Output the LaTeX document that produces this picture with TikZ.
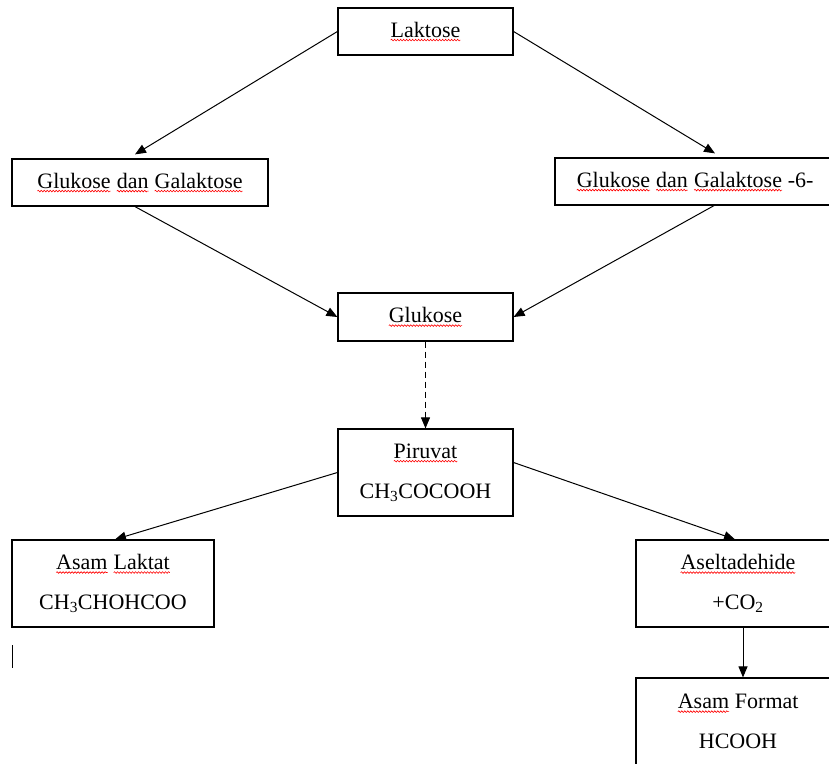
\documentclass[tikz,border=0pt]{standalone}
\usepackage{fontspec}
\setmainfont{Liberation Serif}
\usetikzlibrary{arrows.meta,decorations.pathmorphing}
\newcommand\sq[1]{\tikz[baseline=(w.base)]{\node[inner sep=0pt,outer sep=0pt,minimum width=0pt,minimum height=0pt,draw=none](w){#1};\draw[red,line width=0.6pt,decorate,decoration={snake,amplitude=0.8pt,segment length=3pt}]([yshift=-3pt]w.base west)--([yshift=-3pt]w.base east);}}
\begin{document}
\begin{tikzpicture}[x=1pt,y=-1pt,
  box/.style={draw,line width=1.2pt,inner sep=0pt,align=center,font=\fontsize{22}{40}\selectfont},
  arr/.style={line width=1pt,-{Triangle[length=11pt,width=9pt]}}]
\useasboundingbox (0,0) rectangle (829,763);
\clip (0,0) rectangle (829,763);
\fill[white] (0,0) rectangle (829,763);
\node[box,minimum width=175pt,minimum height=47pt] (lak) at (425.5,31.5) {\sq{Laktose}};
\node[box,minimum width=256pt,minimum height=47pt] (gg) at (140,182.5) {\sq{Glukose} \sq{dan} \sq{Galaktose}};
\node[box,minimum width=280pt,minimum height=47pt] (gg6) at (695,181.5) {\sq{Glukose} \sq{dan} \sq{Galaktose} -6-};
\node[box,minimum width=175pt,minimum height=48pt] (glu) at (425.5,317) {\sq{Glukose}};
\node[box,minimum width=175pt,minimum height=87pt] (pir) at (425.5,472.5) {\sq{Piruvat}\\CH\textsubscript{3}COCOOH};
\node[box,minimum width=202pt,minimum height=87pt] (lakt) at (113,583.5) {\sq{Asam} \sq{Laktat}\\CH\textsubscript{3}CHOHCOO};
\node[box,minimum width=204pt,minimum height=87pt] (ase) at (738,583.5) {\sq{Aseltadehide}\\+CO\textsubscript{2}};
\node[box,minimum width=204pt,minimum height=87pt] (fmt) at (738,721.5) {\sq{Asam} Format\\HCOOH};
\draw[arr] (lak.west) -- ([xshift=-5pt,yshift=4pt]gg.north);
\draw[arr] (lak.east) -- ([xshift=20pt,yshift=4pt]gg6.north);
\draw[arr] ([xshift=-5pt]gg.south) -- (glu.west);
\draw[arr] ([xshift=19pt]gg6.south) -- (glu.east);
\draw[arr,dash pattern=on 6pt off 4pt] (glu.south) -- (pir.north);
\draw[arr] (pir.west) -- ([xshift=2pt]lakt.north);
\draw[arr] ([yshift=10pt]pir.east) -- ([xshift=-3pt]ase.north);
\draw[arr] ([xshift=5pt]ase.south) -- ([xshift=5pt]fmt.north);
\draw[line width=1pt] (12,645) -- (12,668);
\end{tikzpicture}
\end{document}
